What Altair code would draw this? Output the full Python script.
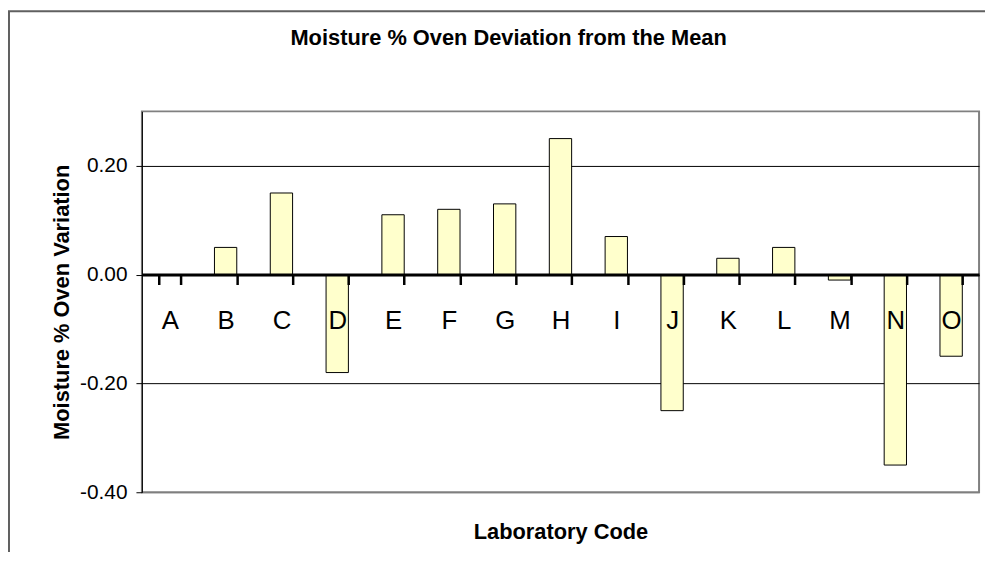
import altair as alt
import pandas as pd

labs = list("ABCDEFGHIJKLMNO")
values = [0.00, 0.05, 0.15, -0.18, 0.11, 0.12, 0.13, 0.25, 0.07, -0.25, 0.03, 0.05, -0.01, -0.35, -0.15]
y_ticks = [-0.4, -0.2, 0.0, 0.2]
chart_title = "Moisture % Oven Deviation from the Mean"

df = pd.DataFrame({"lab": labs, "value": values})

W, H = 844, 384
YMIN, YMAX = -0.4, 0.3
zero_offset = -H * (0 - YMIN) / (YMAX - YMIN)
FONT = "Liberation Sans"

bars = alt.Chart(df).mark_bar(fill="#FFFFCC", stroke="black", strokeWidth=1).encode(
    x=alt.X(
        "lab:N", sort=labs,
        scale=alt.Scale(paddingInner=0.6, paddingOuter=0.3),
        axis=alt.Axis(
            title="Laboratory Code", offset=zero_offset, tickBand="extent",
            domainColor="black", domainWidth=3, tickColor="black", tickWidth=2.5, tickSize=10,
            labelFontSize=26, labelColor="black", labelFont=FONT, labelAngle=0,
            labelPadding=36.7, labelBaseline="middle",
            titleFont=FONT, titleFontSize=22, titleFontWeight="bold", titleColor="black",
            titleY=258.7, titleBaseline="middle", zindex=1,
        ),
    ),
    y=alt.Y(
        "value:Q",
        scale=alt.Scale(domain=[YMIN, YMAX], nice=False, zero=False),
        axis=alt.Axis(
            title="Moisture % Oven Variation", values=y_ticks,
            labelExpr="(datum.value < 0 ? '-' : '') + format(abs(datum.value), '.2f')",
            domainColor="black", domainWidth=1, tickColor="black", tickSize=6, tickWidth=1,
            labelFontSize=21, labelFont=FONT, labelColor="black", labelPadding=9,
            grid=True,
            gridColor={"condition": {"test": "datum.value == -0.4", "value": "#808080"}, "value": "black"},
            gridWidth=1,
            titleFont=FONT, titleFontSize=22, titleFontWeight="bold", titleColor="black",
            titleX=-81, titleBaseline="middle",
        ),
    ),
)

border = alt.Chart(alt.Data(values=[{}])).mark_rect(
    filled=False, stroke="#606060", strokeWidth=2
).encode(
    x=alt.value(-134), x2=alt.value(W + 80), y=alt.value(-101), y2=alt.value(H + 120)
)

title = alt.Chart(alt.Data(values=[{"t": chart_title}])).mark_text(
    font=FONT, fontSize=22, fontWeight="bold", color="black", align="center", baseline="middle"
).encode(text="t:N", x=alt.value(369.7), y=alt.value(-74))

chart = alt.layer(border, bars, title).properties(
    width=W, height=H,
    autosize=alt.AutoSizeParams(type="none"),
    padding={"left": 135, "top": 102, "right": 6, "bottom": 58},
).configure_view(stroke="#808080", strokeWidth=2)

chart.save("out.html", embed_options={"renderer": "svg", "actions": False})
